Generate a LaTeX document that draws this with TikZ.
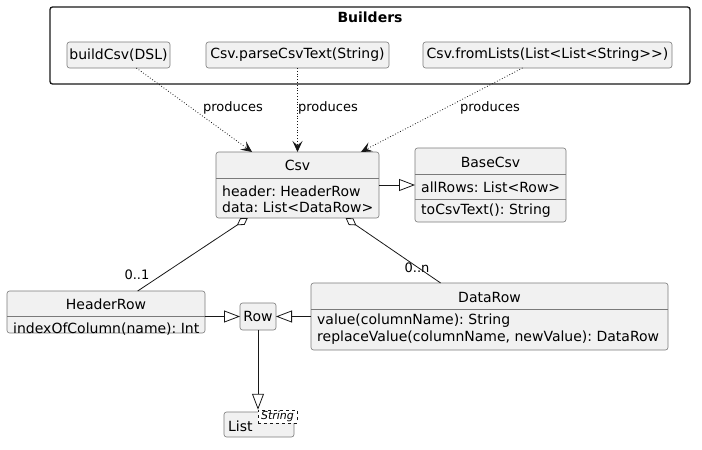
\documentclass[tikz,border=0pt]{standalone}
\usepackage{fontspec}
\setmainfont{DejaVu Sans}
\usetikzlibrary{positioning,arrows.meta,calc}
\frenchspacing

\definecolor{classfill}{HTML}{F1F1F1}
\definecolor{classline}{HTML}{7A7A7A}
\definecolor{inkline}{HTML}{181818}

\tikzset{
  classbox/.style={draw=classline,fill=classfill,rounded corners=2.5pt,line width=0.6pt,
    inner sep=0pt,outer sep=0pt,anchor=north west},
  member/.style={anchor=west,inner sep=0pt},
  lbl/.style={font=\fontsize{13}{15}\selectfont,inner sep=0pt},
  produces/.style={inkline,dotted,line width=0.8pt,-{Stealth[length=11pt,width=10pt,inset=4.5pt]}},
  extends/.style={inkline,line width=0.8pt,-{Triangle[open,length=16pt,width=12pt]}},
  aggreg/.style={inkline,line width=0.8pt,{Diamond[open,length=13pt,width=8pt]}-},
}

\begin{document}
\begin{tikzpicture}[x=1pt,y=-1pt,font=\fontsize{14}{16}\selectfont]
\useasboundingbox (0,0) rectangle (702,450);
% Builders package
\draw[inkline,line width=1.3pt,rounded corners=2.5pt] (50,7) rectangle (690,84);
\node[font=\fontsize{14}{16}\selectfont\bfseries] (bldtitle) at (370,17) {Builders};
\node[classbox,minimum width=103pt,minimum height=26pt] (bdsl) at (67,42) {buildCsv(DSL)};
\node[classbox,minimum width=183pt,minimum height=26pt] (bparse) at (206,42) {Csv.parseCsvText(String)};
\node[classbox,minimum width=249pt,minimum height=26pt] (blists) at (423,42) {Csv.fromLists(List<List<String>{}>)};

% Csv
\node[classbox,minimum width=163pt,minimum height=66pt] (csv) at (216,152) {};
\node (csvtitle) at (297.5,165) {Csv};
\draw[classline,line width=0.6pt] (216,178) -- (379,178);
\node[member] (csvhdr) at (222,191) {header: HeaderRow};
\node[member] (csvdata) at (222,207) {data: List<DataRow>};

% BaseCsv
\node[classbox,minimum width=151pt,minimum height=74pt] (basecsv) at (415,148) {};
\node (basetitle) at (490.5,162) {BaseCsv};
\draw[classline,line width=0.6pt] (415,174) -- (566,174);
\node[member] (baserows) at (421,187) {allRows: List<Row>};
\draw[classline,line width=0.6pt] (415,199) -- (566,199);
\node[member] (basetext) at (421,211) {toCsvText(): String};

% HeaderRow
\node[classbox,minimum width=198pt,minimum height=42pt] (hdr) at (7,291) {};
\node (hdrtitle) at (106,304) {HeaderRow};
\draw[classline,line width=0.6pt] (7,316) -- (205,316);
\node[member] (hdridx) at (13,329) {indexOfColumn(name): Int};

% Row
\node[classbox,minimum width=36pt,minimum height=27pt] (row) at (240,303) {Row};

% DataRow
\node[classbox,minimum width=357pt,minimum height=67pt] (drow) at (311,283) {};
\node (drowtitle) at (489.5,297) {DataRow};
\draw[classline,line width=0.6pt] (311,309) -- (668,309);
\node[member] (drowval) at (317,321) {value(columnName): String};
\node[member] (drowrep) at (317,338) {replaceValue(columnName, newValue): DataRow};

% List<String>
\node[classbox,minimum width=70pt,minimum height=25pt] (lst) at (224,412) {};
\node[member] (lstname) at (228,426) {List};
\node[draw=inkline,dashed,fill=white,line width=0.5pt,inner sep=0pt,minimum width=39pt,minimum height=13pt,
  font=\fontsize{11}{12}\selectfont\itshape] (tpl) at (277.5,416.5) {String};

% connectors
\draw[produces] (bdsl) -- (csv);
\draw[produces] (bparse) -- (csv);
\draw[produces] (blists) -- (csv);
\node[lbl] (lp1) at (233,108) {produces};
\node[lbl] (lp2) at (328,108) {produces};
\node[lbl] (lp3) at (490,108) {produces};

\draw[extends] (csv) -- (basecsv);
\draw[aggreg] (csv) -- (hdr);
\draw[aggreg] (csv) -- (drow);
\node[lbl] (mhdr) at (137,275) {0..1};
\node[lbl] (mdrow) at (417,268) {0..n};

\draw[extends] (hdr.east |- row.west) -- (row.west);
\draw[extends] (drow.west |- row.east) -- (row.east);
\draw[extends] (row.south) -- (row.south |- tpl.north);
\end{tikzpicture}
\end{document}
